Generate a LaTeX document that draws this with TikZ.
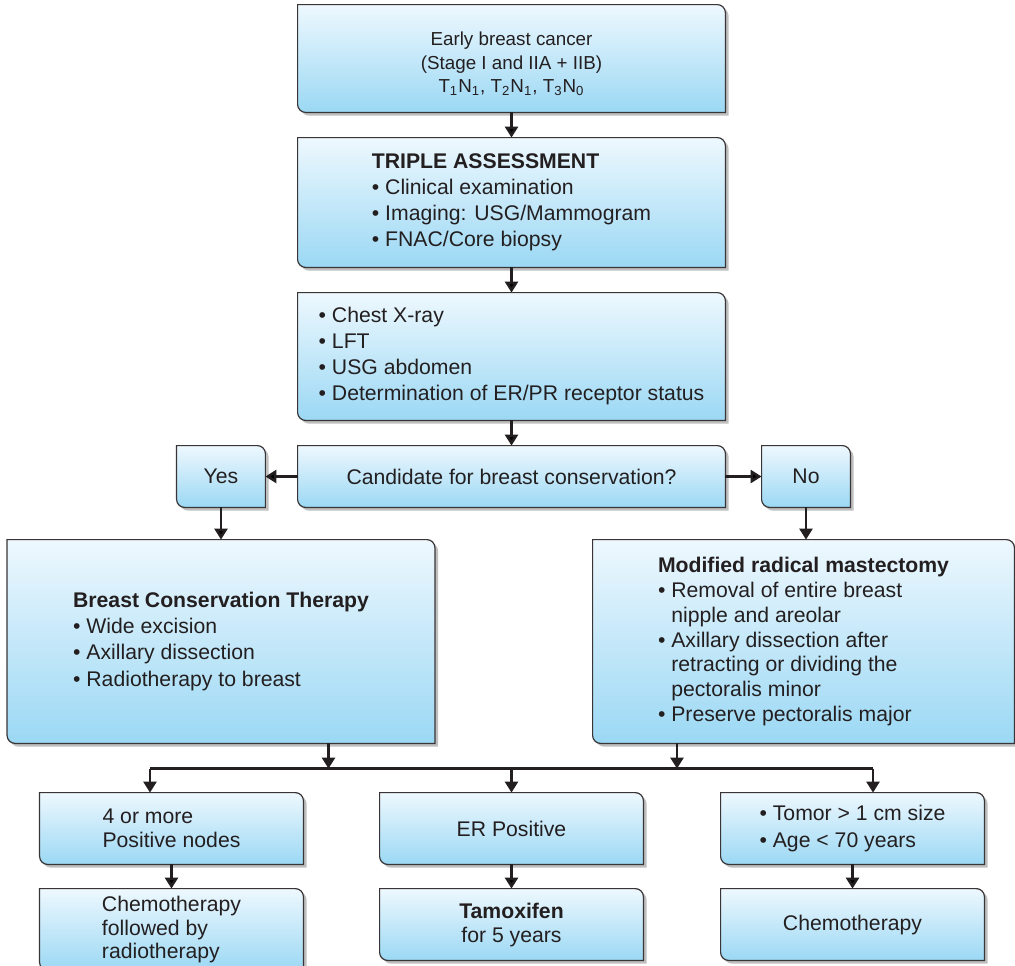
\documentclass[tikz,border=0pt]{standalone}
\usepackage{fontspec}
\setmainfont{Liberation Sans}
\usetikzlibrary{positioning,arrows.meta,shadows,backgrounds}
\definecolor{ink}{RGB}{35,31,32}
\definecolor{paneltop}{RGB}{238,248,254}
\definecolor{panelbot}{RGB}{155,216,244}
\newcommand{\itm}{\textbullet\ }
\newcommand{\rr}{4pt}
\newcommand{\panel}[1]{%
  \path[panel] (#1.north west) -- ([xshift=-\rr]#1.north east)
    arc[start angle=90,end angle=0,radius=\rr] -- (#1.south east)
    -- ([xshift=\rr]#1.south west) arc[start angle=270,end angle=180,radius=\rr] -- cycle;}

\begin{document}
\begin{tikzpicture}[on grid,
    box/.style={minimum width=213.5pt,inner sep=0pt,align=center,text=ink,
      font=\fontsize{10.6}{13}\selectfont},
    small/.style={box,minimum width=131.5pt,minimum height=35.5pt},
    panel/.style={draw=ink!90,line width=0.6pt,top color=paneltop,bottom color=panelbot,
      drop shadow={shadow xshift=1.6pt,shadow yshift=-1.6pt,fill=black,opacity=0.25}},
    arr/.style={-{Triangle[width=6.5pt,length=5.5pt]},line width=1.25pt,draw=ink}]
   \node[box,minimum height=53.5pt,font=\fontsize{9.4}{11.75}\selectfont] (start) at (0,0)
      {\rule{0pt}{12.5pt}Early breast cancer\\(Stage I and IIA + IIB)\\T\textsubscript{1}N\textsubscript{1}, T\textsubscript{2}N\textsubscript{1}, T\textsubscript{3}N\textsubscript{0}};
   \node[box,minimum height=64.5pt,align=left] (triple) [below=72pt of start]
      {{\bfseries TRIPLE ASSESSMENT}\\\itm Clinical examination\\\itm Imaging: USG/Mammogram\\\itm FNAC/Core biopsy};
   \node[box,minimum height=63.5pt,align=left] (tests) [below=77pt of triple]
      {\itm Chest X-ray\\\itm LFT\\\itm USG abdomen\\\itm Determination of ER/PR receptor status};
   \node[box,minimum height=30.5pt] (cand) [below=60pt of tests] {Candidate for breast conservation?};
   \node[box,minimum width=44pt,minimum height=30.5pt] (yes) [left=145.25pt of cand] {Yes};
   \node[box,minimum width=44pt,minimum height=30.5pt] (no) [right=147.25pt of cand] {No};
   \node[box,minimum height=101.5pt,align=left] (bct) [below=82.5pt of yes]
      {{\bfseries Breast Conservation Therapy}\\\itm Wide excision\\\itm Axillary dissection\\\itm Radiotherapy to breast};
   \node[box,minimum width=210.5pt,minimum height=101.5pt,align=left,
      font=\fontsize{10.6}{12.4}\selectfont] (mrm) [below=82.5pt of no,xshift=-1.25pt]
      {{\bfseries Modified radical mastectomy}\\\itm Removal of entire breast\\\hphantom{\itm}nipple and areolar\\
       \itm Axillary dissection after\\\hphantom{\itm}retracting or dividing the\\\hphantom{\itm}pectoralis minor\\\itm Preserve pectoralis major};
   \node[small] (erpos) [below=176pt of cand] {ER Positive};
   \node[small,align=left,font=\fontsize{10.6}{12}\selectfont] (pos4) [left=170pt of erpos] {4 or more\\Positive nodes};
   \node[small,align=left,font=\fontsize{10.6}{13.5}\selectfont] (tumor) [right=170.5pt of erpos]
      {\itm Tomor > 1 cm size\\\itm Age < 70 years};
   \node[small,minimum height=40.5pt,align=left,font=\fontsize{10.6}{11.75}\selectfont] (chemorad) [below=50.5pt of pos4]
      {Chemotherapy\\followed by\\radiotherapy};
   \node[small,font=\fontsize{10.6}{12}\selectfont] (tamox) [below=48pt of erpos] {{\bfseries Tamoxifen}\\for 5 years};
   \node[small] (chemo) [below=48pt of tumor] {Chemotherapy};
   \coordinate (busL) at ([xshift=-10.75pt,yshift=12pt]pos4.north);
   \coordinate (busR) at ([xshift=10.25pt,yshift=12pt]tumor.north);
   \pgfresetboundingbox
   \useasboundingbox ([xshift=-255.75pt,yshift=29.25pt]start.center)
      rectangle ([xshift=251.75pt,yshift=-453.25pt]start.center);
   \begin{scope}[on background layer]
     \foreach \n in {start,triple,tests,cand,yes,no,bct,mrm,pos4,erpos,tumor,chemorad,tamox,chemo}
       \panel{\n};
   \end{scope}
   \path[arr]
    (start) edge (triple)
    (triple) edge (tests)
    (tests) edge (cand)
    (cand) edge (yes)
            edge (no)
    (yes) edge (bct)
    (pos4) edge (chemorad)
    (erpos) edge (tamox)
    (tumor) edge (chemo);
   \draw[arr] (no.south) -- (no.south |- mrm.north);
   \draw[line width=1.25pt,draw=ink] (busL) -- (busR);
   \draw[arr] ([xshift=53.75pt]bct.south) -- ([xshift=53.75pt]bct.south |- busL);
   \draw[arr] ([xshift=-63.25pt]mrm.south) -- ([xshift=-63.25pt]mrm.south |- busL);
   \draw[arr] (busL) -- (busL |- pos4.north);
   \draw[arr] (erpos.north |- busL) -- (erpos.north);
   \draw[arr] (busR) -- (busR |- tumor.north);
\end{tikzpicture}
\end{document}
